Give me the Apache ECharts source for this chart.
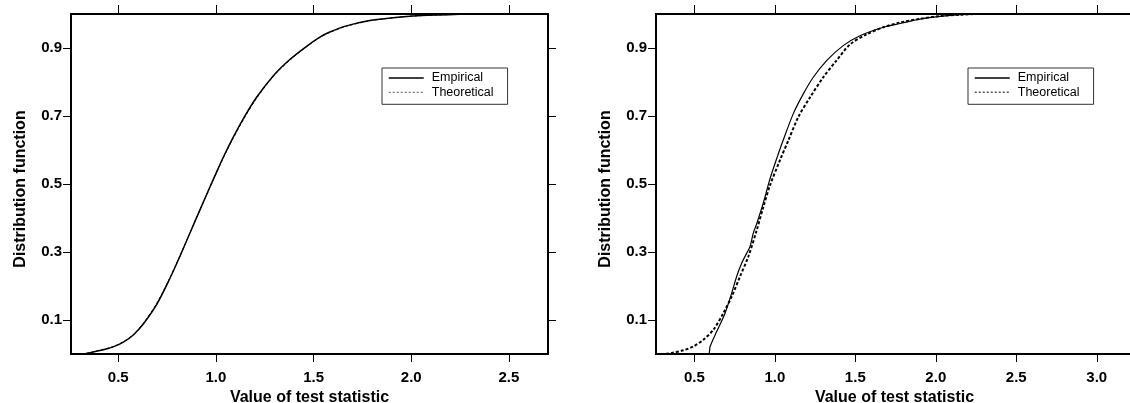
<!DOCTYPE html>
<html><head><meta charset="utf-8">
<script src="https://cdn.jsdelivr.net/npm/echarts@6/dist/echarts.min.js"></script>
<style>html,body{margin:0;padding:0;background:#fff}#c{width:1130px;height:403px}</style>
</head><body><div id="c"></div>
<script>
// ---- data ----
const xTicksLeft = [0.5, 1.0, 1.5, 2.0, 2.5];
const xTicksRight = [0.5, 1.0, 1.5, 2.0, 2.5, 3.0];
const yTicks = [0.1, 0.3, 0.5, 0.7, 0.9];
const legendNames = ['Empirical', 'Theoretical'];

// Left panel
const leftEmpX = [0.26, 0.33, 0.355, 0.406, 0.474, 0.526, 0.577, 0.628, 0.696, 0.764, 0.816, 0.867, 0.918, 0.969, 1.003, 1.037, 1.088, 1.139, 1.208, 1.293, 1.378, 1.464, 1.532, 1.583, 1.668, 1.787, 1.907, 2.009, 2.129, 2.248, 2.35, 2.7];
const leftEmpY = [0, 0.001, 0.004, 0.010, 0.021, 0.035, 0.056, 0.088, 0.145, 0.222, 0.288, 0.356, 0.424, 0.491, 0.535, 0.578, 0.637, 0.691, 0.755, 0.818, 0.866, 0.905, 0.932, 0.947, 0.965, 0.981, 0.989, 0.994, 0.997, 0.999, 1.0, 1.0];
const leftTheoX = [0.26, 0.33, 0.355, 0.406, 0.474, 0.526, 0.577, 0.628, 0.696, 0.764, 0.816, 0.867, 0.918, 0.969, 1.003, 1.037, 1.088, 1.139, 1.208, 1.293, 1.378, 1.464, 1.532, 1.583, 1.668, 1.787, 1.907, 2.009, 2.129, 2.248, 2.35, 2.7];
const leftTheoY = [0, 0.001, 0.004, 0.011, 0.022, 0.036, 0.057, 0.090, 0.148, 0.224, 0.289, 0.356, 0.423, 0.489, 0.533, 0.576, 0.634, 0.688, 0.752, 0.816, 0.864, 0.904, 0.931, 0.946, 0.964, 0.980, 0.989, 0.994, 0.997, 0.999, 1.0, 1.0];

// Right panel
const rightEmpX = [0.262, 0.587, 0.598, 0.639, 0.691, 0.732, 0.763, 0.794, 0.825, 0.846, 0.866, 0.888, 0.929, 0.970, 1.012, 1.053, 1.115, 1.177, 1.239, 1.322, 1.425, 1.529, 1.674, 1.778, 1.902, 2.026, 2.15, 2.3, 3.225];
const rightEmpY = [0, 0, 0.022, 0.066, 0.120, 0.179, 0.228, 0.267, 0.296, 0.316, 0.355, 0.384, 0.445, 0.515, 0.575, 0.630, 0.707, 0.765, 0.814, 0.863, 0.907, 0.936, 0.961, 0.972, 0.985, 0.993, 0.998, 1.0, 1.0];
const rightTheoX = [0.262, 0.30, 0.360, 0.432, 0.494, 0.556, 0.618, 0.680, 0.732, 0.784, 0.835, 0.888, 0.929, 0.970, 1.032, 1.084, 1.146, 1.219, 1.301, 1.383, 1.466, 1.570, 1.674, 1.778, 1.902, 2.026, 2.150, 2.275, 3.225];
const rightTheoY = [0, 0, 0.003, 0.011, 0.022, 0.042, 0.071, 0.120, 0.169, 0.228, 0.286, 0.365, 0.433, 0.496, 0.570, 0.628, 0.697, 0.755, 0.814, 0.863, 0.910, 0.940, 0.961, 0.975, 0.986, 0.994, 0.998, 1.0, 1.0];

const zip = (xs, ys) => xs.map((x, i) => [x, ys[i]]);

// ---- chart ----
const FONT = '"Liberation Sans", Arial, Helvetica, sans-serif';
const chart = echarts.init(document.getElementById('c'), null, {renderer: 'canvas'});

function xAxes(gridIndex, min, max, ticks) {
  return [{
    type: 'value', gridIndex, min, max, position: 'bottom',
    axisLine: {show: false, onZero: false}, splitLine: {show: false},
    axisTick: {show: true, customValues: ticks, length: 8, lineStyle: {color: '#000', width: 1}},
    axisLabel: {customValues: ticks, formatter: v => v.toFixed(1), color: '#000', fontWeight: 'bold', fontSize: 15, fontFamily: FONT, margin: 16},
    name: 'Value of test statistic', nameLocation: 'middle', nameGap: 30,
    nameTextStyle: {color: '#000', fontWeight: 'bold', fontSize: 16, fontFamily: FONT}
  }, {
    type: 'value', gridIndex, min, max, position: 'top',
    axisLine: {show: false, onZero: false}, splitLine: {show: false},
    axisTick: {show: true, customValues: ticks, length: 9, lineStyle: {color: '#000', width: 1}},
    axisLabel: {show: false}
  }];
}
function yAxes(gridIndex) {
  return [{
    type: 'value', gridIndex, min: 0, max: 1, position: 'left',
    axisLine: {show: false, onZero: false}, splitLine: {show: false},
    axisTick: {show: true, customValues: yTicks, length: 8, lineStyle: {color: '#000', width: 1}},
    axisLabel: {customValues: yTicks, formatter: v => v.toFixed(1), color: '#000', fontWeight: 'bold', fontSize: 15, fontFamily: FONT, margin: 9},
    name: 'Distribution function', nameLocation: 'middle', nameGap: 42,
    nameTextStyle: {color: '#000', fontWeight: 'bold', fontSize: 16, fontFamily: FONT, padding: [0, 10, 0, 0]}
  }, {
    type: 'value', gridIndex, min: 0, max: 1, position: 'right',
    axisLine: {show: false, onZero: false}, splitLine: {show: false},
    axisTick: {show: true, customValues: yTicks, length: 8, lineStyle: {color: '#000', width: 1}},
    axisLabel: {show: false}
  }];
}
function legend(left, dashWidth) {
  return {
    orient: 'vertical', left, top: 68,
    data: [
      {name: legendNames[0], itemStyle: {opacity: 0}, lineStyle: {color: '#000', width: 1.5, type: 'solid'}},
      {name: legendNames[1], itemStyle: {opacity: 0}, lineStyle: {color: '#555', width: dashWidth, type: [2, 2]}}
    ],
    selectedMode: false,
    itemWidth: 35, itemHeight: 14, itemGap: 0.3,
    padding: [3, 14, 5, 6],
    borderColor: '#333', borderWidth: 1, backgroundColor: '#fff',
    textStyle: {color: '#000', fontSize: 12.5, fontFamily: FONT, lineHeight: 14, padding: [0, 0, 0, 3]}
  };
}
function line(name, xi, yi, data, width, dashed) {
  return {
    type: 'line', name, xAxisIndex: xi, yAxisIndex: yi, data,
    symbol: 'none', showSymbol: false, smooth: 0.3, clip: true,
    color: '#000', itemStyle: {color: '#000'},
    lineStyle: {color: '#000', width, type: dashed ? [3, 2] : 'solid'},
    emphasis: {disabled: true}, z: dashed ? 3 : 2
  };
}

const gridBase = {show: true, borderColor: '#000', borderWidth: 2, backgroundColor: 'transparent', containLabel: false, outerBoundsMode: 'none'};
chart.setOption({
  animation: false,
  backgroundColor: '#fff',
  grid: [
    Object.assign({left: 71, top: 14, width: 477, height: 340}, gridBase),
    Object.assign({left: 656, top: 14, width: 477, height: 340}, gridBase)
  ],
  xAxis: [...xAxes(0, 0.258, 2.7, xTicksLeft), ...xAxes(1, 0.262, 3.225, xTicksRight)],
  yAxis: [...yAxes(0), ...yAxes(1)],
  legend: [legend(382, 1), legend(968, 1.5)],
  series: [
    line(legendNames[0], 0, 0, zip(leftEmpX, leftEmpY), 1.5, false),
    line(legendNames[1], 0, 0, zip(leftTheoX, leftTheoY), 1, true),
    line(legendNames[0], 2, 2, zip(rightEmpX, rightEmpY), 1.2, false),
    line(legendNames[1], 2, 2, zip(rightTheoX, rightTheoY), 2, true)
  ]
});
</script></body></html>
